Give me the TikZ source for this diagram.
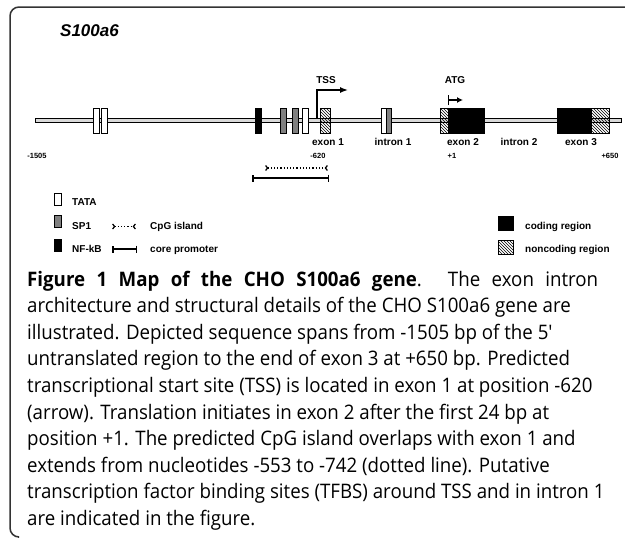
\documentclass[tikz,border=0pt]{standalone}
\usepackage{fontspec}
\newfontfamily\labelfont{Liberation Sans}
\newfontfamily\captionfont{Open Sans}[FakeStretch=0.935]
\usetikzlibrary{arrows.meta, patterns, positioning}

\begin{document}
\begin{tikzpicture}[
    x=1pt, y=-1pt,
    >=Latex,
    site/.style={draw, line width=0.6pt, minimum width=6pt, minimum height=25pt, inner sep=0pt},
    tata/.style={site, fill=white},
    spone/.style={site, fill=gray},
    nfkb/.style={site, fill=black},
    coding/.style={site, fill=black},
    noncoding/.style={site, pattern=north west lines},
    keybox/.style={draw, line width=0.6pt, minimum width=7pt, minimum height=12pt, inner sep=0pt},
    lbl/.style={anchor=base, inner sep=0pt, font=\labelfont\bfseries\fontsize{10}{12}\selectfont},
    keylbl/.style={lbl, anchor=base west},
    posn/.style={anchor=base, inner sep=0pt, font=\labelfont\bfseries\fontsize{7.5}{9}\selectfont},
    capline/.style={anchor=base west, inner sep=0pt, font=\captionfont\fontsize{20}{22}\selectfont}
]
\useasboundingbox (0,0) rectangle (625,538);

% --- Frame ---
\draw[line width=1.5pt, black!80, rounded corners=9pt] (626,7) -- (10,7) -- (10,537) -- (18,537);

% --- Title ---
\node[anchor=base west, inner sep=0pt, font=\labelfont\bfseries\itshape\fontsize{17}{20}\selectfont] (title) at (60,36) {S100a6};

% --- Gene ---
\node[draw, fill=black!15, line width=0.6pt, minimum width=586pt, minimum height=4pt, inner sep=0pt] (gene) at (328,120) {};

\node[tata] (tata1) at (96,120.5) {};
\node[tata] (tata2) at (104,120.5) {};
\node[nfkb] (nfkb1) at (258,120.5) {};
\node[spone] (sp1) at (283.5,120.5) {};
\node[spone] (sp2) at (295.5,120.5) {};
\node[tata] (tata3) at (305.5,120.5) {};
\node[noncoding, minimum width=10pt] (ex1) at (325,120.5) {};
\node[tata, minimum width=5pt] (tata4) at (383.5,120.5) {};
\node[spone, minimum width=5pt] (sp3) at (388.5,120.5) {};
\node[noncoding, minimum width=8pt] (ex2a) at (444,120.5) {};
\node[coding, minimum width=36pt] (ex2b) at (466,120.5) {};
\node[coding, minimum width=34pt] (ex3a) at (574,120.5) {};
\node[noncoding, minimum width=18pt] (ex3b) at (600,120.5) {};

% --- TSS and ATG ---
\coordinate (tss) at (317,118);
\coordinate (tssend) at (348,90);
\draw[line width=1.4pt, -{Latex[length=8pt, width=6pt]}] (tss) |- (tssend);
\node[lbl] (tsslbl) at (326,83.5) {TSS};

\coordinate (atg) at (448,100);
\coordinate (atgend) at (463,100);
\draw[line width=1.2pt, {Bar[width=10pt]}-{Latex[length=6pt, width=6pt]}] (atg) -- (atgend);
\node[lbl] (atglbl) at (455,83.5) {ATG};

% --- Region labels ---
\node[lbl] (ex1lbl) at (328,145.5) {exon 1};
\node[lbl] (in1lbl) at (393,145.5) {intron 1};
\node[lbl] (ex2lbl) at (463,145.5) {exon 2};
\node[lbl] (in2lbl) at (519,145.5) {intron 2};
\node[lbl] (ex3lbl) at (581,145.5) {exon 3};

\node[posn] (startpos) at (37,158) {-1505};
\node[posn] (tsspos) at (318,158) {-620};
\node[posn] (atgpos) at (452,158) {+1};
\node[posn] (endpos) at (610,158) {+650};

% --- CpG island and core promoter ---
\coordinate (cpgl) at (265,168);
\coordinate (cpgr) at (328,168);
\draw[line width=1.2pt, dotted, {Straight Barb[reversed, length=2pt, width=5pt]}-{Straight Barb[reversed, length=2pt, width=5pt]}] (cpgl) -- (cpgr);

\coordinate (cpl) at (252,178);
\coordinate (cpr) at (329,178);
\draw[line width=1.5pt, {Bar[width=7pt]}-{Bar[width=7pt]}] (cpl) -- (cpr);

% --- Legend ---
\node[keybox, fill=white] (keytata) at (57.5,199) {};
\node[keybox, fill=gray] (keysp) at (57.5,221) {};
\node[keybox, fill=black] (keynfkb) at (57.5,245.5) {};
\node[keylbl] (keytatalbl) at (72,205.5) {TATA};
\node[keylbl] (keysplbl) at (72,229.5) {SP1};
\node[keylbl] (keynfkblbl) at (72,252.5) {NF-kB};

\coordinate (keycpgl) at (112,226.5);
\coordinate (keycpgr) at (136,226.5);
\draw[line width=1.2pt, dotted, {Straight Barb[reversed, length=2pt, width=5pt]}-{Straight Barb[reversed, length=2pt, width=5pt]}] (keycpgl) -- (keycpgr);
\coordinate (keycpl) at (112,249);
\coordinate (keycpr) at (137,249);
\draw[line width=1.5pt, {Bar[width=7pt]}-{Bar[width=7pt]}] (keycpl) -- (keycpr);
\node[keylbl] (keycpglbl) at (150,229.5) {CpG island};
\node[keylbl] (keycplbl) at (150,252.5) {core promoter};

\node[keybox, fill=black, minimum width=15pt, minimum height=14pt] (keycod) at (505.5,223) {};
\node[keybox, pattern=north west lines, minimum width=15pt, minimum height=14pt] (keynon) at (505.5,247) {};
\node[keylbl] (keycodlbl) at (525,229.5) {coding region};
\node[keylbl] (keynonlbl) at (525,252.5) {noncoding region};

% --- Caption ---
\node[capline] (cap1) at (27,286) {\makebox[571pt][s]{\bfseries Figure 1 Map of the CHO S100a6 gene\mdseries. The exon intron}};
\node[capline] (cap2) at (27,312.6) {architecture and structural details of the CHO S100a6 gene are};
\node[capline] (cap3) at (27,339.2) {illustrated. Depicted sequence spans from -1505 bp of the 5′};
\node[capline] (cap4) at (27,365.8) {untranslated region to the end of exon 3 at +650 bp. Predicted};
\node[capline] (cap5) at (27,392.4) {transcriptional start site (TSS) is located in exon 1 at position -620};
\node[capline] (cap6) at (27,419) {(arrow). Translation initiates in exon 2 after the first 24 bp at};
\node[capline] (cap7) at (27,445.6) {position +1. The predicted CpG island overlaps with exon 1 and};
\node[capline] (cap8) at (27,472.2) {extends from nucleotides -553 to -742 (dotted line). Putative};
\node[capline] (cap9) at (27,498.8) {transcription factor binding sites (TFBS) around TSS and in intron 1};
\node[capline] (cap10) at (27,525.4) {are indicated in the figure.};

\end{tikzpicture}
\end{document}
